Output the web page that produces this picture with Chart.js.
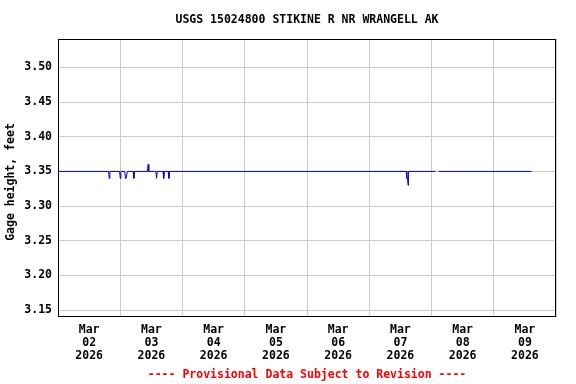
<!DOCTYPE html>
<html>
<head>
<meta charset="utf-8">
<script src="https://cdn.jsdelivr.net/npm/chart.js@4/dist/chart.umd.min.js"></script>
<style>
    html, body { margin: 0; padding: 0; background: #ffffff; }
</style>
</head>
<body>
<canvas id="gageChart" width="576" height="384"></canvas>
<script>
// Chart text
const chartTitle = "USGS 15024800 STIKINE R NR WRANGELL AK";
const yTitle = "Gage height, feet";
const footnote = "---- Provisional Data Subject to Revision ----";

// X axis tick labels (one per day, label sits at noon)
const monthLabel = "Mar";
const dayLabels = ["02", "03", "04", "05", "06", "07", "08", "09"];
const yearLabel = "2026";

// Y axis tick values
const yTicks = [3.15, 3.20, 3.25, 3.30, 3.35, 3.40, 3.45, 3.50];

// Gage height series: hours since Mar 02 00:00 and value in feet (null = gap)
const hours = [
    0, 19.5, 19.75, 20, 23.75, 24, 24.25, 25.75, 26, 26.25, 26.5, 26.75,
    29, 29.25, 29.5, 34.5, 34.75, 35, 37.75, 38, 38.25, 40.5, 40.75, 41,
    42.5, 42.75, 43, 134.25, 134.5, 134.75, 135, 135.1, 145.5, 145.75,
    146.75, 182.5
];
const gageHeight = [
    3.35, 3.35, 3.34, 3.35, 3.35, 3.34, 3.35, 3.35, 3.34, 3.34, 3.34, 3.35,
    3.35, 3.34, 3.35, 3.35, 3.36, 3.35, 3.35, 3.34, 3.35, 3.35, 3.34, 3.35,
    3.35, 3.34, 3.35, 3.35, 3.34, 3.34, 3.33, 3.35, 3.35, null,
    3.35, 3.35
];

const FONT = "bold 11.5px 'DejaVu Sans Mono', monospace";

// Draws the title, y title, footnote and the black frame
const textPlugin = {
    id: 'gageText',
    afterDraw: (chart) => {
        const { ctx, chartArea } = chart;
        const cx = (chartArea.left + chartArea.right) / 2;

        ctx.save();
        ctx.font = FONT;
        ctx.textAlign = 'center';
        ctx.textBaseline = 'middle';

        ctx.fillStyle = '#000000';
        ctx.fillText(chartTitle, cx, 20.5);

        ctx.fillStyle = '#ff0000';
        ctx.fillText(footnote, cx, 375.5);

        ctx.translate(11.5, 182);
        ctx.rotate(-Math.PI / 2);
        ctx.fillStyle = '#000000';
        ctx.fillText(yTitle, 0, 0);
        ctx.restore();

        ctx.save();
        ctx.strokeStyle = '#000000';
        ctx.lineWidth = 1;
        ctx.strokeRect(chartArea.left + 0.5, chartArea.top + 0.5,
            chartArea.right - chartArea.left - 1, chartArea.bottom - chartArea.top - 1);
        ctx.restore();
    }
};

document.addEventListener('DOMContentLoaded', () => {
    const ctx = document.querySelector("#gageChart").getContext("2d");
    const points = hours.map((h, i) => ({ x: h, y: gageHeight[i] }));

    new Chart(ctx, {
        type: "line",
        data: {
            datasets: [{
                data: points,
                borderColor: "#0000cc",
                borderWidth: 1,
                pointRadius: 0,
                tension: 0,
                spanGaps: false,
                fill: false
            }]
        },
        options: {
            responsive: false,
            animation: false,
            layout: { padding: { top: 39, right: 20, left: 0, bottom: 0 } },
            scales: {
                x: {
                    type: "linear",
                    min: 0,
                    max: dayLabels.length * 24,
                    afterBuildTicks: (scale) => {
                        const ticks = [];
                        for (let i = 0; i <= dayLabels.length * 2; i++) {
                            ticks.push({ value: i * 12 });
                        }
                        scale.ticks = ticks;
                    },
                    afterFit: (scale) => { scale.height = 67; },
                    grid: {
                        drawTicks: false,
                        color: (c) => (c.tick && c.tick.value % 24 === 0) ? '#cccccc' : 'rgba(0,0,0,0)'
                    },
                    border: { display: false },
                    ticks: {
                        autoSkip: false,
                        maxRotation: 0,
                        padding: 7,
                        color: '#000000',
                        font: { family: "'DejaVu Sans Mono', monospace", size: 11.5, weight: 'bold', lineHeight: 1.1 },
                        callback: (value) => {
                            if (value % 24 !== 12) return '';
                            return [monthLabel, dayLabels[Math.floor(value / 24)], yearLabel];
                        }
                    }
                },
                y: {
                    type: "linear",
                    min: 3.14,
                    max: 3.541,
                    afterBuildTicks: (scale) => {
                        scale.ticks = yTicks.map(v => ({ value: v }));
                    },
                    afterFit: (scale) => { scale.width = 58; },
                    grid: { drawTicks: false, color: '#cccccc' },
                    border: { display: false },
                    ticks: {
                        padding: 6,
                        color: '#000000',
                        font: { family: "'DejaVu Sans Mono', monospace", size: 11.5, weight: 'bold' },
                        callback: (value) => Number(value).toFixed(2)
                    }
                }
            },
            plugins: {
                legend: { display: false },
                tooltip: { enabled: false }
            }
        },
        plugins: [textPlugin]
    });
});
</script>
</body>
</html>
